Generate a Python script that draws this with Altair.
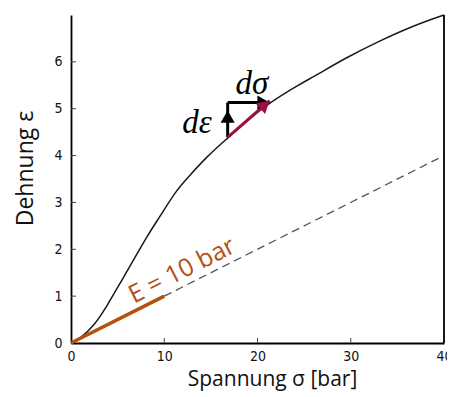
import altair as alt
import pandas as pd
import numpy as np

# ---- data ----
curve_x = [0, 1, 2.4, 3.8, 5.25, 6.7, 8.1, 9.5, 11.3, 12.4, 14.5, 16.9, 19.0, 21.3, 24.5, 26.0, 29.5, 33.1, 36.7, 40]
curve_y = [0, 0.1, 0.35, 0.77, 1.27, 1.77, 2.26, 2.69, 3.26, 3.5, 3.97, 4.39, 4.77, 5.13, 5.52, 5.68, 6.09, 6.45, 6.77, 7.0]

modulus_x = [0, 10]
modulus_y = [0, 1]
dash_x = [10, 40]
dash_y = [1, 4]

x_ticks = [0, 10, 20, 30, 40]
y_ticks = [0, 1, 2, 3, 4, 5, 6]

# arrows: start, end (data units)
arrow_names = ["deps", "dsig", "tangent"]
arrow_x0 = [16.8, 16.8, 16.8]
arrow_y0 = [4.39, 5.13, 4.39]
arrow_x1 = [16.8, 21.3, 21.3]
arrow_y1 = [5.13, 5.13, 5.17]
head_tip_x = [16.8, 21.3, 21.3]
head_tip_y = [4.96, 5.13, 5.17]
arrow_colors = ["#000000", "#000000", "#9a0f45"]

labels_text = ["dε", "dσ"]
labels_x = [13.5, 19.4]
labels_y = [4.70, 5.53]

E_label = "E = 10 bar"
E_label_x = 11.9
E_label_y = 1.55

# ---- layout ----
W, H = 373, 328
XMAX, YMAX = 40, 7
PX_X = W / XMAX
PX_Y = H / YMAX
HEAD_SIZE = 200
ORANGE = "#b5500f"

xs = alt.Scale(domain=[0, XMAX], nice=False, zero=True)
ys = alt.Scale(domain=[0, YMAX], nice=False, zero=True)

tick_font = "Liberation Sans Narrow, DejaVu Sans Condensed, sans-serif"

AX = alt.Axis(
    values=x_ticks, grid=False, ticks=False, tickSize=0, domainColor="#000", domainWidth=1.8,
    labelFont=tick_font, labelFontSize=14, labelColor="#111", labelPadding=6, labelFlush=False,
    title="Spannung σ [bar]", titleFont="Open Sans", titleFontSize=21, titleFontWeight="normal",
    titleColor="#111", titleX=201, titleY=42, titleBaseline="alphabetic", titleAlign="center")
AY = alt.Axis(
    values=y_ticks, grid=False, ticks=False, tickSize=0, domainColor="#000", domainWidth=1.8,
    labelFont=tick_font, labelFontSize=14, labelColor="#111", labelPadding=9, labelFlush=False,
    title="Dehnung ε", titleFont="Open Sans", titleFontSize=23, titleFontWeight="normal",
    titleColor="#111", titleX=-46, titleY=153, titleBaseline="middle", titleAlign="center",
    titleAngle=270)


def X(f):
    return alt.X(f, type="quantitative", scale=xs, axis=AX)


def Y(f):
    return alt.Y(f, type="quantitative", scale=ys, axis=AY)


curve_df = pd.DataFrame({"x": curve_x, "y": curve_y})
curve = alt.Chart(curve_df).mark_line(color="#1a1a1a", strokeWidth=1.5, interpolate="basis").encode(
    x=X("x"), y=Y("y"))

dash = alt.Chart(pd.DataFrame({"x": dash_x, "y": dash_y})).mark_line(
    color="#555", strokeWidth=1.3, strokeDash=[8, 5]).encode(x=X("x"), y=Y("y"))

modulus = alt.Chart(pd.DataFrame({"x": modulus_x, "y": modulus_y})).mark_line(
    color=ORANGE, strokeWidth=3.5).encode(x=X("x"), y=Y("y"))

right_border = alt.Chart(pd.DataFrame({"x": [XMAX], "y0": [0], "y1": [YMAX]})).mark_rule(
    color="#000", strokeWidth=1.8).encode(x=X("x"), y=Y("y0"), y2="y1:Q")

xt = alt.Chart(pd.DataFrame({"x": [v for v in x_ticks if 0 < v < XMAX]})).mark_rule(
    color="#444", strokeWidth=1).encode(x=X("x"), y=alt.value(H), y2=alt.value(H - 5))

yt = alt.Chart(pd.DataFrame({"y": [v for v in y_ticks if v > 0]})).mark_rule(
    color="#444", strokeWidth=1).encode(y=Y("y"), x=alt.value(0), x2=alt.value(5))

# arrows
adf = pd.DataFrame({"name": arrow_names, "x0": arrow_x0, "y0": arrow_y0,
                    "x1": arrow_x1, "y1": arrow_y1, "tx": head_tip_x, "ty": head_tip_y,
                    "c": arrow_colors})
dpx = (adf["x1"] - adf["x0"]) * PX_X
dpy = (adf["y1"] - adf["y0"]) * PX_Y
L = np.hypot(dpx, dpy)
ux, uy = dpx / L, dpy / L
half = 0.433 * np.sqrt(HEAD_SIZE)
adf["hx"] = adf["tx"] - ux * half / PX_X
adf["hy"] = adf["ty"] - uy * half / PX_Y
adf["ang"] = (90 - np.degrees(np.arctan2(uy, ux))) % 360

shafts = alt.Chart(adf).mark_rule(strokeWidth=3).encode(
    x=X("x0"), y=Y("y0"), x2="x1:Q", y2="y1:Q", color=alt.Color("c:N", scale=None))

heads = alt.Chart(adf).mark_point(shape="triangle-up", filled=True, opacity=1, size=HEAD_SIZE).encode(
    x=X("hx"), y=Y("hy"), angle=alt.Angle("ang:Q", scale=None), color=alt.Color("c:N", scale=None))

math_labels = alt.Chart(pd.DataFrame({"t": labels_text, "x": labels_x, "y": labels_y})).mark_text(
    font="Liberation Serif", fontStyle="italic", fontSize=33, color="#000",
    align="center", baseline="middle").encode(x=X("x"), y=Y("y"), text="t:N")

e_label = alt.Chart(pd.DataFrame({"t": [E_label], "x": [E_label_x], "y": [E_label_y]})).mark_text(
    font="Open Sans", fontSize=25, color=ORANGE, angle=333,
    align="center", baseline="middle").encode(x=X("x"), y=Y("y"), text="t:N")

chart = alt.layer(
    curve, dash, modulus, right_border, xt, yt, shafts, heads, math_labels, e_label
).properties(
    width=W, height=H,
    autosize=alt.AutoSizeParams(type="none"),
    padding={"left": 63, "top": 7, "right": 3, "bottom": 48},
    background="white",
).configure_view(stroke=None)

chart.save("out.html", embed_options={"renderer": "svg", "actions": False})
